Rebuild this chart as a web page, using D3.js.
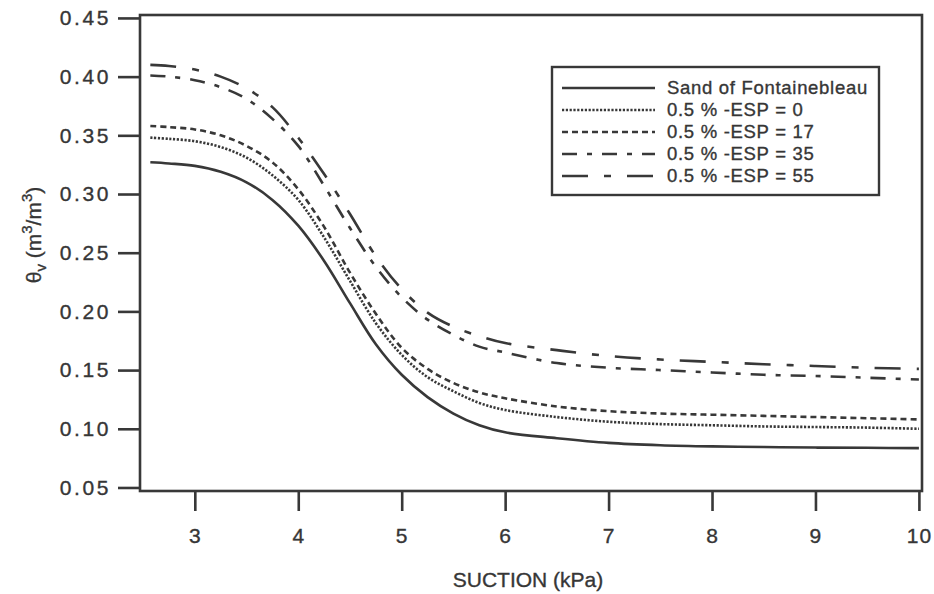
<!DOCTYPE html>
<html>
<head>
<meta charset="utf-8">
<script src="https://cdn.jsdelivr.net/npm/d3@7"></script>
<style>
  html, body { margin: 0; padding: 0; background: #fff; }
  svg { display: block; }
  text { font-family: "Liberation Sans", Arial, Helvetica, sans-serif; fill: #363636; stroke: #363636; stroke-width: 0.35px; }
</style>
</head>
<body>
<svg id="chart" width="934" height="594"></svg>
<script>
// Suction (kPa) at which the retention curves are sampled
const suction = [2.57, 2.75, 3.0, 3.25, 3.5, 3.75, 4.0, 4.25, 4.5, 4.75, 5.0, 5.25, 5.5, 5.75, 6.0, 6.5, 7.0, 7.5, 8.0, 8.5, 9.0, 9.5, 10.0];

// Volumetric water content θv (m3/m3)
const sandFontainebleau = [0.327, 0.326, 0.324, 0.319, 0.310, 0.295, 0.273, 0.243, 0.207, 0.172, 0.146, 0.127, 0.113, 0.103, 0.097, 0.092, 0.088, 0.086, 0.085, 0.0845, 0.084, 0.0838, 0.0835];
const esp0  = [0.348, 0.347, 0.345, 0.340, 0.331, 0.316, 0.295, 0.263, 0.226, 0.190, 0.163, 0.144, 0.132, 0.122, 0.116, 0.110, 0.106, 0.104, 0.103, 0.102, 0.1015, 0.101, 0.100];
const esp17 = [0.358, 0.357, 0.355, 0.350, 0.341, 0.327, 0.304, 0.272, 0.233, 0.198, 0.169, 0.151, 0.139, 0.131, 0.126, 0.119, 0.115, 0.113, 0.112, 0.111, 0.110, 0.109, 0.108];
const esp35 = [0.401, 0.400, 0.397, 0.391, 0.381, 0.364, 0.341, 0.307, 0.271, 0.238, 0.212, 0.193, 0.180, 0.170, 0.165, 0.156, 0.152, 0.150, 0.148, 0.146, 0.145, 0.1435, 0.142];
const esp55 = [0.410, 0.409, 0.406, 0.400, 0.390, 0.374, 0.348, 0.317, 0.283, 0.247, 0.219, 0.199, 0.187, 0.179, 0.173, 0.167, 0.162, 0.159, 0.157, 0.155, 0.1535, 0.152, 0.151];

const seriesNames = ["Sand of Fontainebleau", "0.5 % -ESP = 0", "0.5 % -ESP = 17", "0.5 % -ESP = 35", "0.5 % -ESP = 55"];
const seriesValues = [sandFontainebleau, esp0, esp17, esp35, esp55];

const xTicks = [3, 4, 5, 6, 7, 8, 9, 10];
const yTicks = [0.05, 0.10, 0.15, 0.20, 0.25, 0.30, 0.35, 0.40, 0.45];

const ink = "#383838";
const dashes = [null, "2.2,1.6", "6,4", "15,10,5,10", "26,16,7,16"];

const svg = d3.select("#chart");

const x = d3.scaleLinear().domain([2.47, 10.03]).range([140, 922]);
const y = d3.scaleLinear().domain([0.047, 0.4525]).range([491, 15]);

// plot frame
svg.append("rect")
  .attr("x", x.range()[0]).attr("y", y.range()[1])
  .attr("width", x.range()[1] - x.range()[0])
  .attr("height", y.range()[0] - y.range()[1])
  .attr("fill", "none").attr("stroke", ink).attr("stroke-width", 2.6);

// axes
const yAxis = svg.append("g")
  .attr("transform", `translate(${x.range()[0]},0)`)
  .call(d3.axisLeft(y).tickValues(yTicks).tickSize(22).tickPadding(7).tickFormat(d3.format(".2f")));
const xAxis = svg.append("g")
  .attr("transform", `translate(0,${y.range()[0]})`)
  .call(d3.axisBottom(x).tickValues(xTicks).tickSize(20).tickPadding(17).tickFormat(d3.format("d")));

[yAxis, xAxis].forEach(g => {
  g.select(".domain").remove();
  g.selectAll(".tick line").attr("stroke", ink).attr("stroke-width", 2.6);
  g.selectAll(".tick text")
    .attr("fill", ink)
    .style("font-size", "21px")
    .style("font-family", "'Liberation Sans', Arial, sans-serif");
});
yAxis.selectAll(".tick text").style("letter-spacing", "2.6px");
xAxis.selectAll(".tick text").style("letter-spacing", "1px");

// axis titles
svg.append("text")
  .attr("x", 528).attr("y", 587)
  .attr("text-anchor", "middle")
  .style("font-size", "21px")
  .text("SUCTION (kPa)");

const yTitle = svg.append("text")
  .attr("transform", "translate(41,235) rotate(-90)")
  .attr("text-anchor", "middle")
  .style("font-size", "21px");
yTitle.append("tspan").text("θ");
yTitle.append("tspan").attr("dy", 5).style("font-size", "15px").text("v");
yTitle.append("tspan").attr("dy", -5).text(" (m");
yTitle.append("tspan").attr("dy", -9).style("font-size", "15px").text("3");
yTitle.append("tspan").attr("dy", 9).text("/m");
yTitle.append("tspan").attr("dy", -9).style("font-size", "15px").text("3");
yTitle.append("tspan").attr("dy", 9).text(")");

// curves
const line = d3.line()
  .x((d, i) => x(suction[i]))
  .y(d => y(d))
  .curve(d3.curveCatmullRom.alpha(0.5));

seriesValues.forEach((vals, k) => {
  svg.append("path")
    .datum(vals)
    .attr("d", line)
    .attr("fill", "none")
    .attr("stroke", ink)
    .attr("stroke-width", 2.6)
    .attr("stroke-dasharray", dashes[k]);
});

// legend
const legend = svg.append("g").attr("transform", "translate(552,67)");
legend.append("rect")
  .attr("width", 327).attr("height", 128)
  .attr("fill", "#fff").attr("stroke", ink).attr("stroke-width", 2.4);
seriesNames.forEach((name, k) => {
  const row = legend.append("g").attr("transform", `translate(0,${21 + k * 22})`);
  row.append("line")
    .attr("x1", 10).attr("x2", 103)
    .attr("stroke", ink).attr("stroke-width", 2.6)
    .attr("stroke-dasharray", dashes[k]);
  row.append("text")
    .attr("x", 115).attr("dy", "0.35em")
    .style("font-size", "18.5px")
    .style("letter-spacing", "0.7px")
    .text(name);
});
</script>
</body>
</html>
